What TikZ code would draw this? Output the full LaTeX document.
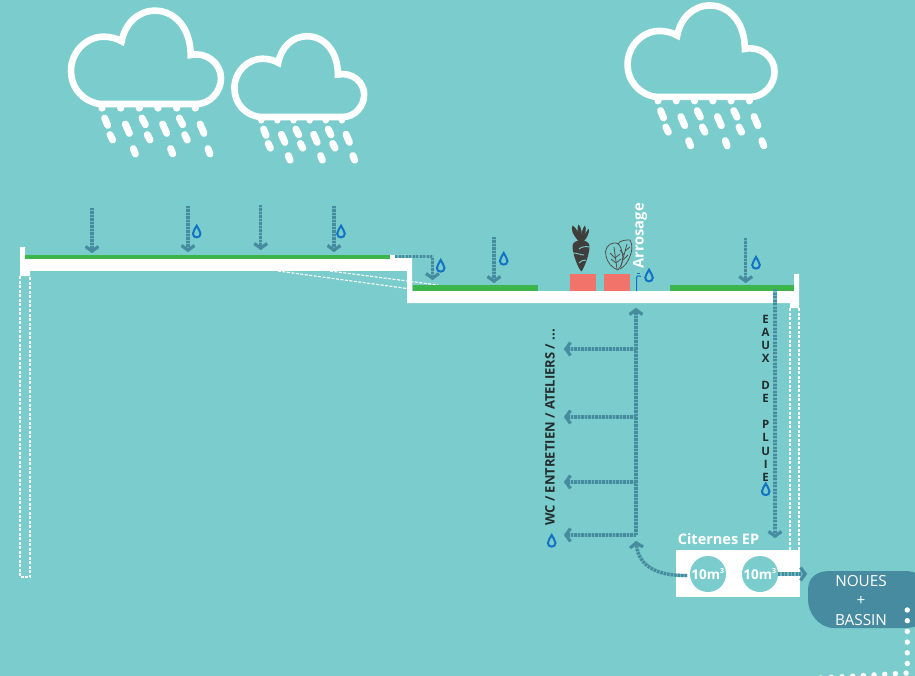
\documentclass[tikz,border=0pt]{standalone}
\usepackage{fontspec}
\setmainfont{Open Sans}
\usetikzlibrary{arrows.meta}
\definecolor{bgc}{RGB}{122,205,204}
\definecolor{pipec}{RGB}{70,139,159}
\definecolor{greenc}{RGB}{60,181,74}
\definecolor{potc}{RGB}{241,115,106}
\definecolor{dropc}{RGB}{18,115,196}
\definecolor{darkc}{RGB}{64,62,60}
\definecolor{inkc}{RGB}{36,44,46}
\tikzset{
  flow/.style={draw=pipec,line width=3.3pt,dash pattern=on 2.4pt off 1.1pt,
    preaction={draw=pipec!30!bgc,solid,line width=3.3pt,-},
    -{Straight Barb[length=4.5pt,width=13pt,line width=3.2pt]}},
  wiredash/.style={draw=white,line width=1.1pt,dash pattern=on 3pt off 1.5pt},
  raindrop/.style={white,line width=7pt,line cap=round},
  nub/.style={fill=white},
  lbl/.style={font=\fontsize{15.3}{17}\selectfont,text=white,inner sep=0pt},
  vletter/.style={font=\fontsize{11.5}{12}\selectfont\bfseries,text=inkc,inner sep=0pt},
}
\newcommand{\dropmark}[3]{% name x y
  \coordinate (#1) at (#2,#3);
  \draw[dropc,line width=2pt,shift={(#1)}] (0,-6) .. controls (1,-3) and (3.8,-1) .. (3.8,2)
    .. controls (3.8,4.4) and (2,5.6) .. (0,5.6) .. controls (-2,5.6) and (-3.8,4.4) .. (-3.8,2)
    .. controls (-3.8,-1) and (-1,-3) .. (0,-6) -- cycle;}
\newcommand{\rainflow}[4]{% name x y1 y2
  \coordinate (#1a) at (#2,#3);
  \coordinate (#1b) at (#2,#4);
  \draw[flow] (#1a) -- (#1b);}
\newcommand{\branch}[2]{% name y
  \coordinate (#1a) at (636,#2);
  \coordinate (#1b) at (564,#2);
  \draw[flow] (#1a) -- (#1b);}
\newcommand{\cloudrain}[3]{% dx dy scale
  \begin{scope}[shift={(#1,#2)},scale=#3]
  \begin{scope}[shift={(60,0)},scale=1/3]
    \draw[white,line width=6.6pt,miter limit=10]
      (120,312) .. controls (70,305) and (33,265) .. (33,212)
      .. controls (33,155) and (80,110) .. (130,110)
      .. controls (150,110) and (170,115) .. (185,124)
      .. controls (195,70) and (235,32) .. (285,32)
      .. controls (345,32) and (392,85) .. (392,165)
      .. controls (440,155) and (483,190) .. (483,235)
      .. controls (483,275) and (450,312) .. (410,312) -- cycle;
    \foreach \nx in {126,182,238,294,350,406}
      \fill[nub] (\nx,324) circle (11);
    \foreach \ax/\ay/\bx/\by in {134/354/143/376,196/372/208/400,246/354/256/374,308/372/320/400,358/354/368/374,420/372/432/400,
      150/404/158/420,262/404/270/420,374/404/382/420,220/446/226/462,332/446/338/462,444/446/450/462}
      \draw[raindrop] (\ax,\ay) -- (\bx,\by);
  \end{scope}
  \end{scope}}
\begin{document}
\begin{tikzpicture}[x=1pt,y=-1pt]
\path[fill=bgc,use as bounding box] (0,0) rectangle (915,676);
\clip (0,0) rectangle (915,676);
% clouds
\cloudrain{0}{0}{1}
\cloudrain{173}{27}{0.865}
\cloudrain{558}{-5}{0.98}
% dashed walls
\draw[wiredash] (20,276) -- (20,577) -- (30,577) -- (30,276);
\draw[wiredash] (790,308) -- (790,551);
\draw[wiredash] (799,308) -- (799,551);
\draw[wiredash] (278,271) -- (407,288.5);
\draw[wiredash] (330,271) -- (438,285);
% building
\fill[white] (20,247) -- (25,247) -- (25,259) -- (390,259) -- (390,255) -- (412,255) -- (412,291)
  -- (794,291) -- (794,274) -- (799,274) -- (799,308) -- (790,308) -- (790,303) -- (407,303)
  -- (407,271) -- (30,271) -- (30,276) -- (20,276) -- cycle;
\fill[greenc] (25,255) rectangle (390,259);
\fill[greenc] (413,285) rectangle (538,291);
\fill[greenc] (670,285) rectangle (794,291);
\fill[potc] (570,274) rectangle (595.7,291);
\fill[potc] (603.7,274) rectangle (630,291);
% carrot
\begin{scope}[shift={(581,0)}]
  \fill[darkc] (-8.5,246) .. controls (-8.5,238.5) and (8.5,238.5) .. (8.5,246)
    .. controls (8.5,255) and (3,268) .. (0.5,271.5) .. controls (-2,270) and (-8.5,255) .. (-8.5,246) -- cycle;
  \fill[darkc] (-2.5,241) .. controls (-9,234) and (-10,229) .. (-8.5,225.5) .. controls (-5,227) and (-1.5,234) .. (-1,241) -- cycle;
  \fill[darkc] (-2,241) .. controls (-4,233) and (-4,227) .. (-2.5,224.5) .. controls (0,226) and (1.5,233) .. (0.5,241) -- cycle;
  \fill[darkc] (-0.5,241) .. controls (0,233) and (2,227) .. (4,225.5) .. controls (6,229) and (4,236) .. (1.5,241) -- cycle;
  \fill[darkc] (1,241) .. controls (3,235) and (5.5,231) .. (8,228.5) .. controls (8.5,233) and (6,238) .. (3,241) -- cycle;
  \draw[bgc,line width=0.9pt] (8.5,247) .. controls (4,246) and (0,247) .. (-2,249);
  \draw[bgc,line width=0.9pt] (-8,253) .. controls (-4,253) and (0,255) .. (3,255);
  \draw[bgc,line width=0.9pt] (5,260) .. controls (2,260) and (0,261) .. (-2,263);
\end{scope}
% lettuce
\begin{scope}[draw=darkc!90,line width=0.8pt]
  \draw (618,270) .. controls (612,268) and (607,262) .. (606,256) .. controls (604,250) and (608,243) .. (614,243)
    .. controls (618,242) and (621,246) .. (622,252) .. controls (624,258) and (622,266) .. (618,270) -- cycle;
  \draw (618,244) .. controls (620,240) and (626,240) .. (630,240) .. controls (633,245) and (632,252) .. (630,256)
    .. controls (628,262) and (625,266) .. (620,269);
  \draw (617,269) -- (614,247);
  \draw (615,258) -- (610,253) (616,263) -- (611,259) (615,258) -- (620,254) (616,263) -- (621,259);
  \draw (621,266) -- (627,244);
  \draw (624,255) -- (620,250) (625,251) -- (630,247) (623,260) -- (628,255);
\end{scope}
% tap
\draw[dropc,line width=1pt] (636.7,291) -- (636.7,277) .. controls (637,275.5) and (639,275.5) .. (641,276.5);
\draw[dropc,line width=1pt] (637,273.5) -- (640,273.5);
% rain arrows
\rainflow{ra}{92}{208}{253}
\rainflow{rb}{188}{206}{252}
\rainflow{rc}{260.7}{205}{250}
\rainflow{rd}{334}{206}{252}
\rainflow{re}{494}{237}{283}
\rainflow{rf}{745.7}{238}{283}
% gutter
\coordinate (ga) at (395,256.7);
\coordinate (gb) at (432.5,256.7);
\coordinate (gc) at (432.5,280);
\draw[flow] (ga) -- (gb) -- (gc);
% rain pipe
\rainflow{ep}{775}{289}{538}
% distribution
\coordinate (upa) at (636,535);
\coordinate (upb) at (636,308);
\draw[flow] (upa) -- (upb);
\branch{ba}{349}
\branch{bb}{417}
\branch{bc}{482}
\branch{bd}{535}
% tanks
\node[fill=white,minimum width=124pt,minimum height=47pt,inner sep=0pt,anchor=north west] (tank) at (676,550) {};
\node[circle,fill=bgc,minimum size=36pt,inner sep=0pt,text=white,font=\fontsize{13.5}{14}\selectfont\bfseries] (c1) at (708,574) {10m\textsuperscript{\fontsize{7}{8}\selectfont 3}};
\node[circle,fill=bgc,minimum size=36pt,inner sep=0pt,text=white,font=\fontsize{13.5}{14}\selectfont\bfseries] (c2) at (760,574) {10m\textsuperscript{\fontsize{7}{8}\selectfont 3}};
\node[lbl,font=\fontsize{14.5}{16}\selectfont\bfseries] (cit) at (718.5,539) {Citernes EP};
\coordinate (ca) at (687,575.5);
\coordinate (cb) at (636,541);
\draw[flow] (ca) .. controls (655,576) and (638,565) .. (cb);
\coordinate (oa) at (778,574);
\coordinate (ob) at (807,574);
% basin
\path[fill=pipec] (808,590) .. controls (808,578) and (816,571) .. (830,571) -- (905,571)
  .. controls (925,571) and (935,590) .. (935,600) .. controls (935,612) and (925,628) .. (905,628)
  -- (834,628) .. controls (818,628) and (808,612) .. (808,600) -- cycle;
\node[lbl] (n1) at (861,581.5) {NOUES};
\node[lbl] (n2) at (861,601) {+};
\node[lbl] (n3) at (861,620) {BASSIN};
\draw[flow] (oa) -- (ob);
\draw[white,line width=5.4pt,line cap=round,dash pattern=on 0pt off 10.7pt] (907.3,610) -- (907.3,673) -- (820,678);
% labels
\node[lbl,rotate=90,font=\fontsize{14.7}{16}\selectfont\bfseries] (arr) at (640,236) {Arrosage};
\node[inner sep=0pt,rotate=90,text=inkc,font=\fontsize{13}{14}\selectfont\bfseries] (wc) at (550,427.5) {WC / ENTRETIEN / ATELIERS / ...};
\foreach \letter/\ly [count=\i] in {E/319,A/332,U/345,X/358.5,D/385,E/398.5,P/424,L/437,U/451,I/464,E/477}
  \node[vletter] (v\i) at (765.7,\ly) {\letter};
% water drops
\dropmark{da}{196.7}{231.7}
\dropmark{db}{341}{231.7}
\dropmark{dc}{440.7}{266}
\dropmark{dd}{503.7}{259}
\dropmark{de}{649}{275.7}
\dropmark{df}{756}{263}
\dropmark{dg}{765.7}{489.5}
\dropmark{dh}{551.7}{541}
\end{tikzpicture}
\end{document}
